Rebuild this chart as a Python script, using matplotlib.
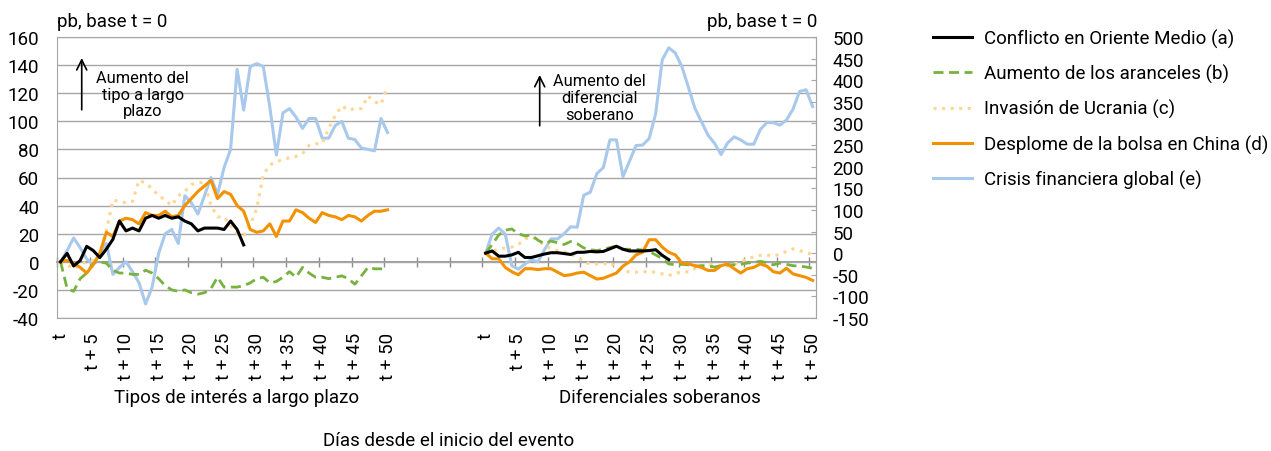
#!/usr/bin/env python3

#
# plot.py - tipos a largo plazo y diferenciales soberanos tras varios eventos
#

#%%============================================================================
# Import necessary modules
#==============================================================================
import numpy as np
import matplotlib
matplotlib.use('Agg')
import matplotlib.pyplot as plt

plt.rcParams['font.family'] = ['Roboto', 'DejaVu Sans']
plt.rcParams['axes.unicode_minus'] = False

#%%============================================================================
# Data (pb, base t = 0)
#==============================================================================
series_names = ['Conflicto en Oriente Medio (a)',
                'Aumento de los aranceles (b)',
                'Invasión de Ucrania (c)',
                'Desplome de la bolsa en China (d)',
                'Crisis financiera global (e)']

# Tipos de interés a largo plazo (left axis), days t .. t+50
tipos_a = [0, 6, -3, 1, 11, 8, 3, 9, 16, 29, 22, 24, 22, 31, 33, 31, 33, 31,
           32, 29, 27, 22, 24, 24, 24, 23, 29, 23, 12]
tipos_b = [0, -19, -21, -12, -8, -1, 0, -1, -6, -8, -8, -9, -9, -6, -8, -12,
           -17, -20, -21, -20, -22, -23, -22, -19, -11, -18, -18, -18, -17,
           -15, -12, -11, -15, -14, -11, -7, -11, -4, -8, -11, -11, -12, -11,
           -10, -12, -16, -10, -4, -5, -5, -6]
tipos_c = [0, -2, -5, -2, 0, 1, 6, 22, 44, 43, 42, 43, 58, 56, 52, 47, 44,
           40, 47, 50, 55, 56, 57, 40, 32, 32, 26, 20, 19, 26, 38, 62, 69,
           71, 73, 74, 75, 77, 83, 84, 84, 95, 104, 111, 108, 109, 109, 118,
           114, 112, 125]
tipos_d = [0, 1, -1, -4, -8, -2, 6, 21, 18, 29, 31, 30, 27, 35, 33, 33, 36,
           32, 33, 40, 45, 50, 54, 58, 45, 50, 48, 40, 36, 23, 21, 22, 27,
           18, 29, 29, 37, 35, 31, 28, 35, 33, 32, 30, 33, 32, 29, 33, 36,
           36, 37]
tipos_e = [0, 8, 17, 10, 2, -2, 6, 13, -9, -4, 0, -7, -15, -30, -18, 6, 20,
           23, 13, 47, 42, 34, 47, 60, 48, 67, 80, 137, 108, 139, 141, 139,
           110, 76, 106, 109, 103, 95, 102, 102, 88, 88, 97, 100, 88, 87, 81,
           80, 79, 102, 92]

# Diferenciales soberanos (right axis), days t .. t+50
dif_a = [0, 5, -7, -7, -4, 2, -10, -10, -6, -2, 1, 1, -1, -3, 2, 2, 4, 3, 4,
         10, 16, 9, 5, 5, 5, 6, 8, -5, -15]
dif_b = [0, 20, 42, 53, 56, 45, 40, 42, 30, 22, 28, 24, 20, 27, 22, 12, 8, 6,
         9, 13, 16, 9, 9, 9, 7, 4, -4, -13, -25, -27, -26, -27, -30, -29,
         -30, -32, -29, -27, -27, -26, -23, -21, -19, -22, -27, -23, -26,
         -29, -30, -32, -35]
dif_c = [0, 5, 9, 12, 14, 20, 33, 38, 30, 18, 10, 6, 3, -2, -10, -20, -25,
         -25, -25, -22, -33, -42, -43, -44, -43, -43, -44, -48, -52, -46,
         -44, -43, -35, -29, -25, -27, -30, -30, -25, -21, -13, -9, -5, -4,
         -7, -2, 4, 10, 6, 1, -3]
dif_d = [0, -13, -13, -33, -43, -50, -36, -36, -38, -36, -36, -44, -52, -50,
         -46, -44, -52, -60, -58, -52, -46, -30, -20, -4, 2, 31, 31, 14, 2,
         -4, -23, -25, -29, -33, -40, -40, -29, -25, -36, -46, -36, -33, -25,
         -30, -43, -46, -35, -48, -52, -56, -63]
dif_e = [0, 44, 58, 44, -29, -37, -25, -15, -20, 8, 33, 33, 45, 61, 60, 134,
         141, 184, 198, 262, 262, 177, 213, 249, 250, 265, 323, 447, 475,
         463, 432, 384, 335, 304, 273, 254, 228, 255, 269, 262, 252, 252,
         286, 302, 302, 296, 308, 333, 374, 378, 339]

tick_days = [0, 5, 10, 15, 20, 25, 30, 35, 40, 45, 50]
tick_text = ['t'] + ['t + %d' % d for d in tick_days[1:]]

gap = 14                      # empty categories between the two blocks
start_right = 51 + gap        # first category of the right block
ncat = start_right + 51

#%%============================================================================
# Styles
#==============================================================================
colors = ['#000000', '#77B23F', '#FFD590', '#F39200', '#A8C9EC']
styles = ['-', (0, (3.6, 2.0)), (0, (1, 1.8)), '-', '-']
widths = [2.2, 2.0, 2.2, 2.2, 2.2]
grid_col = '#a6a6a6'
fs = 13.5

#%%============================================================================
# Plotting
#==============================================================================
f1 = plt.figure(figsize=(12.71, 4.52), dpi=100)
ax1 = f1.add_axes([57.3/1271, 1 - 319/452, 758.6/1271, 281/452])
ax2 = ax1.twinx()

left_data = [tipos_a, tipos_b, tipos_c, tipos_d, tipos_e]
right_data = [dif_a, dif_b, dif_c, dif_d, dif_e]

handles = []
for k in range(5):
    xl = np.arange(len(left_data[k]))
    ln, = ax1.plot(xl, left_data[k], color=colors[k], ls=styles[k],
                   lw=widths[k], label=series_names[k])
    handles.append(ln)
    xr = start_right + np.arange(len(right_data[k]))
    ax2.plot(xr, right_data[k], color=colors[k], ls=styles[k], lw=widths[k])

# order of drawing: blue lines below the others, like in the original
for ax in (ax1, ax2):
    for z, ln in zip([5, 3, 2, 4, 1], ax.get_lines()):
        ln.set_zorder(z)

ax1.set_xlim(-0.5, ncat - 0.5)
ax1.set_ylim(-40, 160)
ax1.set_yticks(np.arange(-40, 161, 20))
ax2.set_ylim(-150, 500)
ax2.set_yticks(np.arange(-150, 501, 50))

ax1.yaxis.grid(True, color=grid_col, lw=1.0)
ax1.set_axisbelow(True)
for sp in ax1.spines.values():
    sp.set_color(grid_col)
for sp in ax2.spines.values():
    sp.set_visible(False)
ax2.spines['right'].set_visible(True)
ax2.spines['right'].set_color(grid_col)

ax1.tick_params(axis='y', length=0, pad=13, labelsize=fs)
ax2.tick_params(axis='y', direction='in', length=3.8, color=grid_col,
                pad=12, labelsize=fs)

xt = tick_days + [start_right + d for d in tick_days]
ax1.set_xticks(xt)
ax1.set_xticklabels(tick_text + tick_text, rotation=90)
ax1.tick_params(axis='x', length=0, pad=10, labelsize=fs)

# zero line of the left axis with tick marks every 5 days
sec = ax1.secondary_xaxis(0.2)
sec.spines['bottom'].set_color('#8c8c8c')
sec.spines['bottom'].set_linewidth(1.2)
sec.set_xticks(np.arange(-0.5, ncat, 5))
sec.tick_params(axis='x', direction='inout', length=6.5, width=1.0,
                color='#8c8c8c', labelbottom=False)

# Annotations
ax1.annotate('', xy=(0.0322, 0.925), xytext=(0.0322, 0.741),
             xycoords='axes fraction',
             arrowprops=dict(arrowstyle='->', color='black', lw=1.2,
                             mutation_scale=18, shrinkA=0, shrinkB=0))
ax1.text(0.1126, 0.797, 'Aumento del\ntipo a largo\nplazo', ha='center',
         va='center', fontsize=11.8, linespacing=1.15,
         transform=ax1.transAxes)
ax1.annotate('', xy=(0.6359, 0.865), xytext=(0.6359, 0.684),
             xycoords='axes fraction',
             arrowprops=dict(arrowstyle='->', color='black', lw=1.2,
                             mutation_scale=18, shrinkA=0, shrinkB=0))
ax1.text(0.715, 0.785, 'Aumento del\ndiferencial\nsoberano', ha='center',
         va='center', fontsize=11.8, linespacing=1.15,
         transform=ax1.transAxes)

# Texts around the plot
f1.text(57/1271, 1 - 22/452, 'pb, base t = 0', ha='left', va='center',
        fontsize=fs)
f1.text(817/1271, 1 - 22/452, 'pb, base t = 0', ha='right', va='center',
        fontsize=fs)
f1.text(237/1271, 1 - 398/452, 'Tipos de interés a largo plazo',
        ha='center', va='center', fontsize=fs)
f1.text(660/1271, 1 - 398/452, 'Diferenciales soberanos',
        ha='center', va='center', fontsize=fs)
f1.text(449/1271, 1 - 441/452, 'Días desde el inicio del evento',
        ha='center', va='center', fontsize=fs)

f1.legend(handles=handles, loc='upper left',
          bbox_to_anchor=(933/1271, 1 - 30/452), frameon=False,
          fontsize=fs, handlelength=2.1, handletextpad=0.6,
          labelspacing=0.85, borderpad=0, borderaxespad=0)

f1.savefig('out.png', dpi=100)
